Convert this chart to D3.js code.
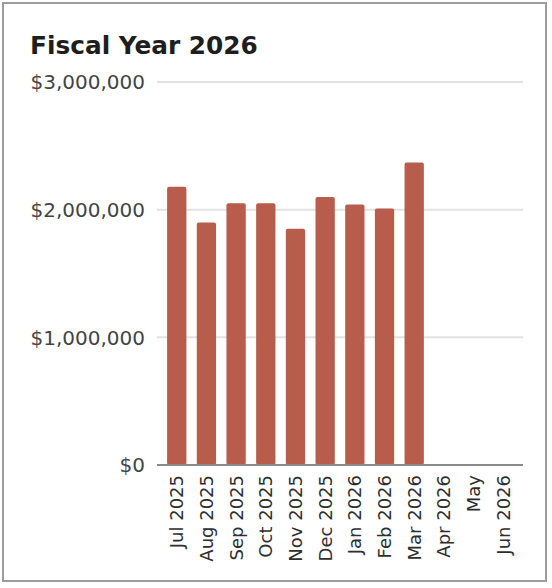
<!DOCTYPE html>
<html>
<head>
<meta charset="utf-8">
<script src="https://cdn.jsdelivr.net/npm/d3@7"></script>
<style>
  body { margin: 0; background: #fff; }
  svg { display: block; font-family: "DejaVu Sans", Verdana, sans-serif; }
</style>
</head>
<body>
<svg width="552" height="588"></svg>
<script>
const months = ['Jul 2025', 'Aug 2025', 'Sep 2025', 'Oct 2025', 'Nov 2025', 'Dec 2025',
                'Jan 2026', 'Feb 2026', 'Mar 2026', 'Apr 2026', 'May', 'Jun 2026'];
const revenue = [2180000, 1900000, 2050000, 2050000, 1850000, 2100000,
                 2040000, 2010000, 2370000, null, null, null];
const yTicks = [0, 1000000, 2000000, 3000000];

const svg = d3.select('svg');
const width = +svg.attr('width');
const height = +svg.attr('height');

// frame
svg.append('rect')
    .attr('x', 3).attr('y', 3)
    .attr('width', 543).attr('height', 578)
    .attr('fill', '#fff')
    .attr('stroke', '#9c9c9c')
    .attr('stroke-width', 2);

svg.append('text')
    .attr('x', 30)
    .attr('y', 54)
    .text('Fiscal Year 2026')
    .style('font-size', '24.8px')
    .style('font-weight', 'bold')
    .style('fill', '#1e1e1e');

const x = d3.scaleBand()
    .domain(months)
    .range([157, 523])
    .paddingInner(0.35)
    .paddingOuter(0.34);

const y = d3.scaleLinear()
    .domain([0, 3000000])
    .range([465, 82]);

const fmt = v => '$' + d3.format(',')(v);

// gridlines
svg.selectAll('.grid')
    .data(yTicks.filter(d => d > 0))
    .enter()
    .append('line')
    .attr('class', 'grid')
    .attr('x1', 157)
    .attr('x2', 523)
    .attr('y1', d => y(d))
    .attr('y2', d => y(d))
    .attr('stroke', '#e2e2e2')
    .attr('stroke-width', 2);

svg.selectAll('.ylab')
    .data(yTicks)
    .enter()
    .append('text')
    .attr('class', 'ylab')
    .attr('x', 145)
    .attr('y', d => y(d))
    .attr('dy', '0.36em')
    .attr('text-anchor', 'end')
    .text(fmt)
    .style('font-size', '20px')
    .style('fill', '#444');

// bars
svg.selectAll('.bar')
    .data(months.map((m, i) => ({ m, v: revenue[i] })).filter(d => d.v != null))
    .enter()
    .append('rect')
    .attr('class', 'bar')
    .attr('x', d => x(d.m))
    .attr('y', d => y(d.v))
    .attr('width', x.bandwidth())
    .attr('height', d => y(0) - y(d.v))
    .attr('rx', 2)
    .attr('fill', '#b85c4c');

// baseline
svg.append('line')
    .attr('x1', 157)
    .attr('x2', 523)
    .attr('y1', y(0))
    .attr('y2', y(0))
    .attr('stroke', '#8a8a8a')
    .attr('stroke-width', 2);

svg.selectAll('.xlab')
    .data(months)
    .enter()
    .append('text')
    .attr('class', 'xlab')
    .attr('transform', d => `translate(${x(d) + x.bandwidth() / 2},475) rotate(-90)`)
    .attr('dy', '0.36em')
    .attr('text-anchor', 'end')
    .text(d => d)
    .style('font-size', '18px')
    .style('fill', '#2e2e2e');
</script>
</body>
</html>
